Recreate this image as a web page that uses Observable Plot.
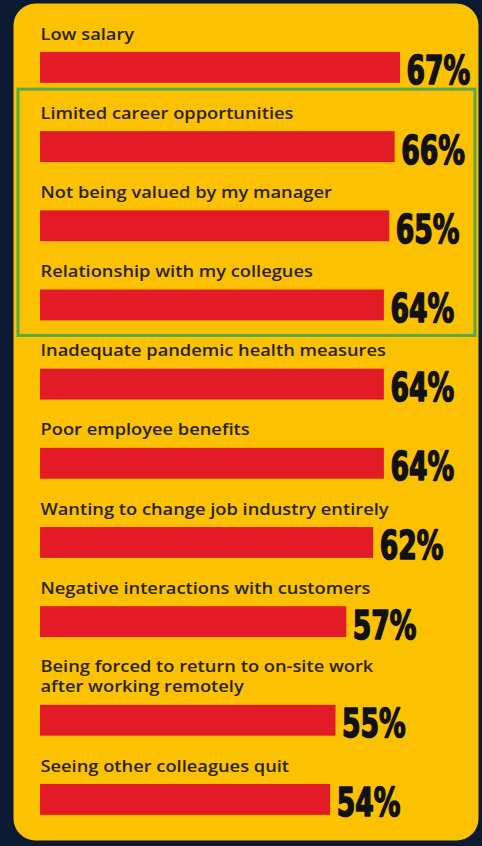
<!DOCTYPE html>
<html><head><meta charset="utf-8">
<script src="https://cdn.jsdelivr.net/npm/d3@7"></script>
<script src="https://cdn.jsdelivr.net/npm/@observablehq/plot@0.6"></script>
<style>
html,body{margin:0;padding:0;background:#0b1a30;}
#chart svg{display:block}
</style></head><body><div id="chart"></div>
<script>
const reasons = [
  "Low salary",
  "Limited career opportunities",
  "Not being valued by my manager",
  "Relationship with my collegues",
  "Inadequate pandemic health measures",
  "Poor employee benefits",
  "Wanting to change job industry entirely",
  "Negative interactions with customers",
  "Being forced to return to on-site work\nafter working remotely",
  "Seeing other colleagues quit"
];
const values = [67, 66, 65, 64, 64, 64, 62, 57, 55, 54];
const highlighted = [
  "Limited career opportunities",
  "Not being valued by my manager",
  "Relationship with my collegues"
];

// layout (row units)
const extraLineUnit = 0.246;
const thick = 0.39;
let acc = 0;
const rows = reasons.map((r, i) => {
  acc += (r.split("\n").length - 1) * extraLineUnit;
  return {reason: r, value: values[i], pos: i + acc, hi: highlighted.includes(r)};
});
const maxPos = d3.max(rows, d => d.pos);
const hiRows = rows.filter(d => d.hi);
const hiBox = [{y1: d3.min(hiRows, d => d.pos), y2: d3.max(hiRows, d => d.pos) + thick}];

const chart = Plot.plot({
  width: 482, height: 846,
  marginTop: 3, marginBottom: 6, marginLeft: 13, marginRight: 4,
  style: {background: "#0b1a30"},
  x: {domain: [0, 80], range: [40, 40 + 80 * 360 / 67], axis: null},
  y: {domain: [0, maxPos], range: [52, 784], axis: null},
  marks: [
    Plot.frame({fill: "#fcc100", stroke: "none", rx: 22}),
    Plot.rect(hiBox, {y1: "y1", y2: "y2", insetLeft: 5, insetRight: 3, insetTop: -42, insetBottom: -15,
      fill: "none", stroke: "#5aa846", strokeWidth: 3}),
    Plot.rect(rows, {x1: 0, x2: "value", y1: "pos", y2: d => d.pos + thick, fill: "#e31b26"}),
    Plot.text(rows, {x: 0, y: "pos", text: "reason", textAnchor: "start", lineAnchor: "bottom",
      dy: -13, fontSize: 15.5, lineHeight: 1.3, fontFamily: "'Open Sans', sans-serif", fontWeight: 600,
      letterSpacing: 0.5, fill: "#2a2410"}),
    Plot.text(rows, {x: "value", y: d => d.pos + thick, text: d => d.value + "%", textAnchor: "start",
      lineAnchor: "bottom", dx: 6, dy: 1, fontSize: 34, fontWeight: "bold",
      fontFamily: "'DejaVu Sans Condensed', sans-serif",
      fill: "#111", stroke: "#111", strokeWidth: 1.4, letterSpacing: -1})
  ]
});
const allText = d3.select(chart).selectAll("text");
// value labels: tall and narrow like a condensed display face
allText.filter(function() { return /%$/.test(this.textContent); })
  .each(function() {
    const t = this.getAttribute("transform") || "";
    this.setAttribute("transform", t + " scale(0.87,1.13)");
  });
// reason labels: wide geometric look
allText.filter(function() { return !/%$/.test(this.textContent); })
  .each(function() {
    const t = this.getAttribute("transform") || "";
    this.setAttribute("transform", t + " scale(1.18,1)");
  });
document.getElementById("chart").appendChild(chart);
</script></body></html>
